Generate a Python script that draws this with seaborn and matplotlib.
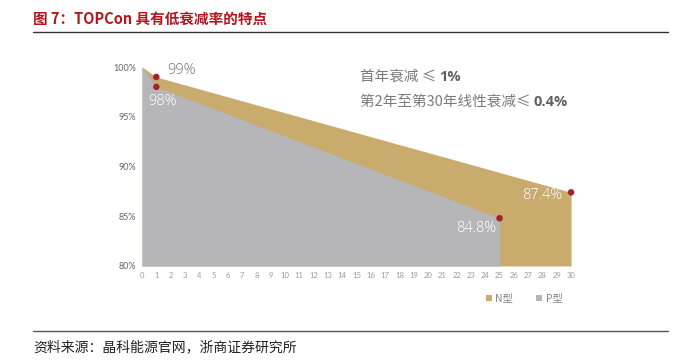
import matplotlib
matplotlib.use("Agg")
import matplotlib.pyplot as plt
import seaborn as sns
import pandas as pd

# Data
n_years = [0, 1, 30]
n_values = [100, 99, 87.4]
p_years = [0, 1, 25]
p_values = [100, 98, 84.8]
x_ticks = list(range(0, 31))
y_ticks = [80, 85, 90, 95, 100]
y_labels = ["80%", "85%", "90%", "95%", "100%"]
series_names = ["N型", "P型"]

sns.set_theme(style="white")
plt.rcParams['font.family'] = ['Noto Sans CJK SC', 'DejaVu Sans']

GOLD = "#c9ab6e"
GRAY = "#b6b6b8"
RED = "#a3232d"
LAT = ['Lato', 'DejaVu Sans']

fig = plt.figure(figsize=(6.8, 3.61), dpi=100)
ax = fig.add_axes([0.2088, 0.2632, 0.631, 0.5512])

ax.fill_between(n_years, 80, n_values, color=GOLD, lw=0, label=series_names[0])
ax.fill_between(p_years, 80, p_values, color=GRAY, lw=0, label=series_names[1])

dots = pd.DataFrame({"x": [n_years[1], p_years[1], p_years[2], n_years[2]],
                     "y": [n_values[1], p_values[1], p_values[2], n_values[2]]})
sns.scatterplot(data=dots, x="x", y="y", ax=ax, color=RED, s=22, edgecolor="none",
                zorder=5, clip_on=False, legend=False)

ax.set_xlim(0, 30)
ax.set_ylim(80, 100)
ax.set_xticks(x_ticks)
ax.set_xticklabels([str(v) for v in x_ticks], fontsize=5.5, color="#9a9a9a", family=LAT)
ax.set_yticks(y_ticks)
ax.set_yticklabels(y_labels, fontsize=6.5, color="#666666", family=LAT)
ax.tick_params(axis='both', length=0, pad=4)
ax.set_xlabel("")
ax.set_ylabel("")
for s in ax.spines.values():
    s.set_visible(False)
ax.grid(False)

# value labels
VL = ['Open Sans', 'DejaVu Sans']
ax.text(1.75, 99.65, "99%", fontsize=10.5, color="#707070", ha="left", va="center",
        family=VL, weight="light")
ax.text(1.45, 96.5, "98%", fontsize=10.5, color="white", ha="center", va="center",
        family=VL, weight="light")
ax.text(23.4, 83.8, "84.8%", fontsize=10.5, color="white", ha="center", va="center",
        family=VL, weight="light")
ax.text(28.0, 87.05, "87.4%", fontsize=10.5, color="white", ha="center", va="center",
        family=VL, weight="light")

# legend
handles, labels = ax.get_legend_handles_labels()
fig.legend(handles, labels, loc="center", bbox_to_anchor=(0.771, 0.173), ncol=2,
           frameon=False, fontsize=7.5, handlelength=0.6, handleheight=0.6,
           handletextpad=0.3, columnspacing=2.2, labelcolor="#888888")

# annotation text (regular part followed by bold value)
renderer = fig.canvas.get_renderer()
def two_part(x, y, t1, t2, size):
    a = fig.text(x, y, t1, fontsize=size, color="#7a7a7a", va="center", ha="left")
    bb = a.get_window_extent(renderer=renderer)
    x2 = bb.x1 / fig.bbox.width
    fig.text(x2, y, t2, fontsize=size, color="#606060", va="center", ha="left",
             weight="bold", family=['Open Sans', 'DejaVu Sans'])

two_part(0.529, 0.787, "首年衰减 ≤ ", "1%", 10.5)
two_part(0.529, 0.717, "第2年至第30年线性衰减≤ ", "0.4%", 10.5)

# title and rules
fig.text(0.049, 0.948, "图 7：TOPCon 具有低衰减率的特点", fontsize=10.5, color="#b5161e",
         weight="bold", va="center", ha="left")
fig.add_artist(plt.Line2D([0.049, 0.982], [0.911, 0.911], color="#333333", lw=1.0))
fig.add_artist(plt.Line2D([0.049, 0.982], [0.083, 0.083], color="#555555", lw=1.0))
fig.text(0.049, 0.038, "资料来源：晶科能源官网，浙商证券研究所", fontsize=10, color="#222222",
         va="center", ha="left")

fig.savefig("out.png", dpi=100)
